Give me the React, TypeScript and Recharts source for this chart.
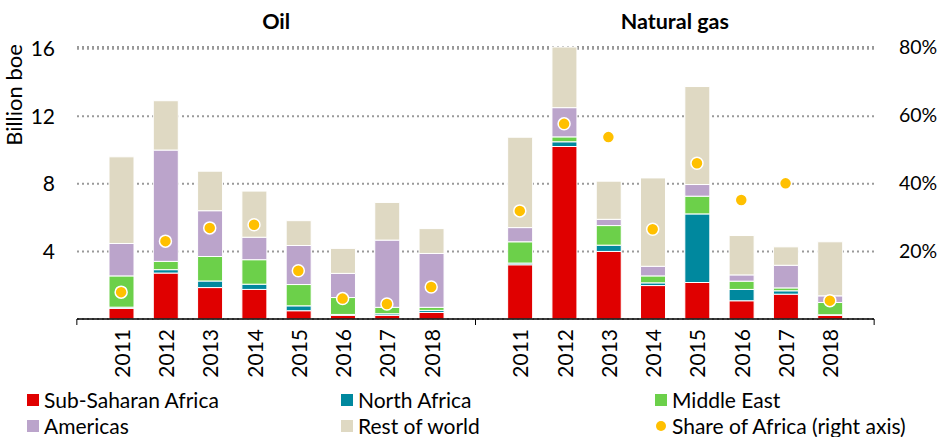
import {
  ComposedChart,
  Bar,
  Line,
  XAxis,
  YAxis,
  CartesianGrid,
} from "recharts";

const years = ["2011", "2012", "2013", "2014", "2015", "2016", "2017", "2018"];

// Oil discoveries, billion boe
const oilSubSaharan = [0.63, 2.72, 1.86, 1.75, 0.49, 0.22, 0.22, 0.39];
const oilNorthAfrica = [0.07, 0.2, 0.39, 0.31, 0.29, 0.05, 0.09, 0.12];
const oilMiddleEast = [1.85, 0.49, 1.45, 1.45, 1.26, 1.0, 0.38, 0.18];
const oilAmericas = [1.92, 6.59, 2.71, 1.33, 2.31, 1.43, 3.98, 3.19];
const oilRestOfWorld = [5.13, 2.92, 2.34, 2.73, 1.47, 1.48, 2.23, 1.47];
const oilShare = [7.9, 22.9, 26.8, 27.7, 14.2, 6.0, 4.4, 9.4];

// Natural gas discoveries, billion boe
const gasSubSaharan = [3.21, 10.21, 4.0, 1.98, 2.16, 1.08, 1.47, 0.22];
const gasNorthAfrica = [0.1, 0.28, 0.37, 0.16, 4.06, 0.67, 0.2, 0.03];
const gasMiddleEast = [1.26, 0.29, 1.16, 0.41, 1.05, 0.49, 0.17, 0.73];
const gasAmericas = [0.84, 1.73, 0.37, 0.57, 0.69, 0.37, 1.34, 0.39];
const gasRestOfWorld = [5.35, 3.59, 2.26, 5.23, 5.8, 2.33, 1.09, 3.2];
const gasShare = [31.8, 57.4, 53.5, 26.4, 45.8, 35.0, 39.9, 5.4];

const groupTitles = ["Oil", "Natural gas"];

const leftTicks = [4, 8, 12, 16];
const rightTicks = [20, 40, 60, 80];

const series = [
  { key: "ssa", name: "Sub-Saharan Africa", color: "#E00000" },
  { key: "na", name: "North Africa", color: "#00889E" },
  { key: "me", name: "Middle East", color: "#6CD04A" },
  { key: "am", name: "Americas", color: "#BBA4CB" },
  { key: "row", name: "Rest of world", color: "#DFD9C3" },
];
const shareColor = "#FFC000";

const FONT = "Lato, 'Open Sans', sans-serif";

const makeRows = (
  prefix: string,
  ssa: number[],
  na: number[],
  me: number[],
  am: number[],
  row: number[],
  share: number[]
) =>
  years.map((y, i) => ({
    key: `${prefix}-${y}`,
    ssa: ssa[i],
    na: na[i],
    me: me[i],
    am: am[i],
    row: row[i],
    share: share[i],
  }));

const data = [
  ...makeRows("oil", oilSubSaharan, oilNorthAfrica, oilMiddleEast, oilAmericas, oilRestOfWorld, oilShare),
  { key: "gap" },
  ...makeRows("gas", gasSubSaharan, gasNorthAfrica, gasMiddleEast, gasAmericas, gasRestOfWorld, gasShare),
];

const lastIndex = data.length - 1;

const YearTick = (props: any) => {
  const { x, y, payload, index } = props;
  const half = payload.offset || 22;
  const axisY = y - 10;
  const value: string = payload.value;
  const year = value === "gap" ? "" : value.split("-")[1];
  return (
    <g>
      {value === "gap" && <line x1={x} x2={x} y1={axisY} y2={axisY + 6} stroke="#000" />}
      {index === 0 && (
        <line x1={x - 2 * half} x2={x - 2 * half} y1={axisY} y2={axisY + 6} stroke="#000" />
      )}
      {index === lastIndex && (
        <line x1={x + 2 * half} x2={x + 2 * half} y1={axisY} y2={axisY + 6} stroke="#000" />
      )}
      {year && (
        <text
          transform={`translate(${x},${y}) rotate(-90)`}
          textAnchor="end"
          dominantBaseline="central"
          fontSize={21}
          fontFamily={FONT}
          fill="#000"
        >
          {year}
        </text>
      )}
    </g>
  );
};

// group title sits between the 4th and 5th year of each group
const GroupTick = (props: any) => {
  const { x, y, payload } = props;
  const half = payload.offset || 22;
  const value: string = payload.value;
  let title = "";
  if (value === `oil-${years[3]}`) title = groupTitles[0];
  if (value === `gas-${years[3]}`) title = groupTitles[1];
  if (!title) return null;
  return (
    <text
      x={x + half}
      y={y}
      textAnchor="middle"
      fontSize={21.5}
      fontWeight="bold"
      fontFamily={FONT}
      fill="#000"
    >
      {title}
    </text>
  );
};

const AxisTitle = (props: any) => {
  const { viewBox } = props;
  return (
    <text
      transform={`translate(${viewBox.x + 13},${viewBox.y + 48}) rotate(-90)`}
      textAnchor="middle"
      dominantBaseline="central"
      fontSize={22}
      fontFamily={FONT}
      fill="#000"
    >
      Billion boe
    </text>
  );
};

const legendItems = [
  series[0],
  series[1],
  series[2],
  series[3],
  series[4],
  { key: "share", name: "Share of Africa (right axis)", color: shareColor },
];

const ChartLegend = () => (
  <div
    style={{
      position: "absolute",
      left: 27,
      top: 390,
      display: "grid",
      gridTemplateColumns: "314px 314px 314px",
      rowGap: 6,
      fontFamily: FONT,
      fontSize: 21,
      lineHeight: "20px",
      color: "#000",
    }}
  >
    {legendItems.map((item) => (
      <div key={item.key} style={{ display: "flex", alignItems: "center", height: 20 }}>
        {item.key === "share" ? (
          <span
            style={{
              width: 10,
              height: 10,
              borderRadius: 5,
              background: item.color,
              margin: "0 6px 0 1px",
            }}
          />
        ) : (
          <span style={{ width: 12, height: 12, background: item.color, marginRight: 5 }} />
        )}
        <span>{item.name}</span>
      </div>
    ))}
  </div>
);

export default function App() {
  return (
    <div
      style={{
        position: "absolute",
        left: 0,
        top: 0,
        width: 939,
        height: 437,
        background: "#fff",
        fontFamily: FONT,
      }}
    >
      <ComposedChart
        width={939}
        height={437}
        data={data}
        margin={{ top: 17, right: 0, bottom: 58, left: 0 }}
      >
        <CartesianGrid
          yAxisId="left"
          vertical={false}
          stroke="#9a9a9a"
          strokeWidth={2}
          strokeDasharray="2 3"
        />
        <XAxis
          xAxisId="top"
          orientation="top"
          dataKey="key"
          height={30}
          padding={{ left: 22, right: 22 }}
          axisLine={false}
          tickLine={false}
          tickMargin={12}
          interval={0}
          tick={<GroupTick />}
        />
        <XAxis
          dataKey="key"
          height={60}
          padding={{ left: 22, right: 22 }}
          axisLine={{ stroke: "#000", strokeWidth: 1.3 }}
          tickLine={false}
          tickMargin={4}
          interval={0}
          tick={<YearTick />}
        />
        <YAxis
          yAxisId="left"
          width={77}
          domain={[0, 16]}
          ticks={leftTicks}
          axisLine={false}
          tickLine={false}
          tickMargin={16}
          tick={{ fontSize: 21, fill: "#000", fontFamily: FONT }}
          label={<AxisTitle />}
        />
        <YAxis
          yAxisId="right"
          orientation="right"
          width={65}
          domain={[0, 80]}
          ticks={rightTicks}
          axisLine={false}
          tickLine={false}
          tickMargin={19}
          tickFormatter={(v) => `${v}%`}
          tick={{ fontSize: 19.5, fill: "#000", fontFamily: FONT, textAnchor: "start" }}
        />
        {series.map((s) => (
          <Bar
            key={s.key}
            yAxisId="left"
            dataKey={s.key}
            name={s.name}
            stackId="discoveries"
            fill={s.color}
            stroke="#fff"
            strokeWidth={1}
            barSize={25}
            isAnimationActive={false}
          />
        ))}
        <Line
          yAxisId="right"
          dataKey="share"
          name="Share of Africa (right axis)"
          stroke="none"
          dot={{ r: 6, fill: shareColor, stroke: "#fff", strokeWidth: 1.5 }}
          activeDot={false}
          isAnimationActive={false}
        />
      </ComposedChart>
      <ChartLegend />
    </div>
  );
}
